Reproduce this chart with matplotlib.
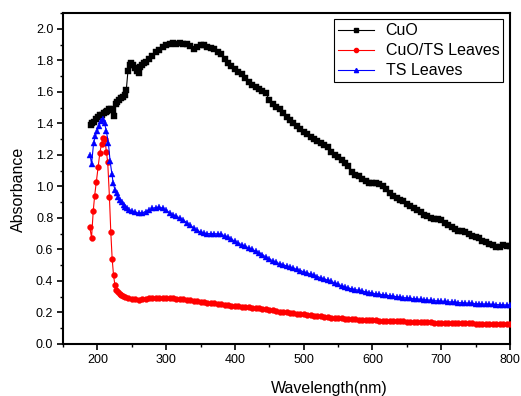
import matplotlib
matplotlib.use("Agg")
import matplotlib.pyplot as plt
from matplotlib.lines import Line2D
from matplotlib.ticker import MultipleLocator
import numpy as np

plt.rcParams['font.family'] = ['Liberation Sans', 'DejaVu Sans']

# ---------------- data ----------------
labels = ["CuO", "CuO/TS Leaves", "TS Leaves"]

# CuO
cuo_x_early = [190, 192.5, 195, 198, 201, 204, 206, 209, 212, 214.5, 217, 220, 222.5, 224,
               226.5, 229, 232, 234.5, 237, 239.5, 242, 244.5, 247, 249.5, 252, 254.5, 257,
               260, 262.5, 265, 267.5]
cuo_y_early = [1.39, 1.40, 1.41, 1.43, 1.44, 1.45, 1.45, 1.465, 1.47, 1.48, 1.49, 1.49, 1.485, 1.445,
               1.525, 1.535, 1.55, 1.56, 1.57, 1.58, 1.61, 1.735, 1.77, 1.785, 1.77, 1.75, 1.73,
               1.72, 1.76, 1.77, 1.78]
cuo_x_tail = list(range(270, 805, 5))
cuo_y_tail = [1.79, 1.81, 1.83, 1.85, 1.865, 1.885, 1.90, 1.905, 1.91, 1.905,
              1.91, 1.905, 1.905, 1.89, 1.87, 1.885, 1.895, 1.895, 1.885, 1.875,
              1.87, 1.855, 1.84, 1.81, 1.785, 1.765, 1.745, 1.725, 1.71, 1.69,
              1.665, 1.645, 1.63, 1.615, 1.605, 1.595, 1.545, 1.525, 1.505, 1.49,
              1.465, 1.44, 1.42, 1.40, 1.385, 1.365, 1.345, 1.33, 1.315, 1.30,
              1.29, 1.275, 1.265, 1.25, 1.22, 1.20, 1.185, 1.165, 1.15, 1.13,
              1.09, 1.075, 1.065, 1.05, 1.035, 1.02, 1.02, 1.02, 1.015, 1.005,
              0.985, 0.955, 0.94, 0.925, 0.915, 0.905, 0.89, 0.875, 0.86, 0.85,
              0.835, 0.82, 0.81, 0.80, 0.795, 0.79, 0.785, 0.77, 0.755, 0.74,
              0.73, 0.72, 0.715, 0.71, 0.695, 0.685, 0.68, 0.67, 0.655, 0.645,
              0.635, 0.625, 0.615, 0.615, 0.625, 0.62, 0.62]

# CuO/TS Leaves
mix_x_early = [189, 191.5, 194, 196, 198.5, 201, 203.5, 206, 208.5, 211, 213, 215, 217.5,
               219.5, 221.5, 223.5, 225.5, 227.5, 230, 232.5, 235, 237.5]
mix_y_early = [0.74, 0.675, 0.845, 0.94, 1.03, 1.12, 1.21, 1.27, 1.31, 1.30, 1.22, 1.155, 0.935,
               0.71, 0.54, 0.435, 0.375, 0.345, 0.328, 0.318, 0.31, 0.303]
mix_x_tail = list(range(240, 805, 5))
mix_y_tail = [0.297, 0.292, 0.288, 0.285, 0.282, 0.283, 0.286, 0.289, 0.291, 0.293,
              0.294, 0.294, 0.293, 0.292, 0.29, 0.288, 0.286, 0.283, 0.28, 0.277,
              0.275, 0.272, 0.269, 0.266, 0.263, 0.26, 0.257, 0.254, 0.251, 0.248,
              0.246, 0.243, 0.241, 0.238, 0.236, 0.234, 0.232, 0.23, 0.228, 0.226,
              0.224, 0.22, 0.217, 0.213, 0.21, 0.206, 0.203, 0.201, 0.199, 0.196,
              0.193, 0.19, 0.188, 0.185, 0.182, 0.18, 0.177, 0.175, 0.173, 0.17,
              0.168, 0.166, 0.164, 0.162, 0.16, 0.158, 0.157, 0.156, 0.155, 0.154,
              0.153, 0.152, 0.151, 0.15, 0.149, 0.148, 0.147, 0.146, 0.145, 0.145,
              0.144, 0.143, 0.142, 0.141, 0.141, 0.14, 0.139, 0.138, 0.137, 0.137,
              0.136, 0.136, 0.135, 0.135, 0.134, 0.134, 0.133, 0.133, 0.132, 0.132,
              0.131, 0.131, 0.13, 0.129, 0.128, 0.128, 0.127, 0.127, 0.126, 0.126,
              0.125, 0.125, 0.124]

# TS Leaves
ts_x_early = [189.5, 191.5, 194.5, 197, 199.5, 202, 205, 207.5, 210.5, 213, 216, 218.5, 221,
              223, 225.5, 228, 230.5, 233, 235.5, 238, 240.5, 243, 245.5]
ts_y_early = [1.20, 1.14, 1.275, 1.32, 1.35, 1.38, 1.415, 1.43, 1.40, 1.35, 1.275, 1.16, 1.08,
              1.02, 0.98, 0.955, 0.93, 0.915, 0.90, 0.885, 0.872, 0.862, 0.853]
ts_x_tail = list(range(250, 805, 5))
ts_y_tail = [0.845, 0.836, 0.83, 0.832, 0.84, 0.85, 0.86, 0.866, 0.867, 0.862,
             0.85, 0.832, 0.82, 0.81, 0.80, 0.786, 0.77, 0.752, 0.736, 0.722,
             0.71, 0.703, 0.70, 0.70, 0.70, 0.698, 0.695, 0.688, 0.677, 0.665,
             0.652, 0.64, 0.63, 0.62, 0.61, 0.60, 0.59, 0.58, 0.567, 0.552,
             0.54, 0.528, 0.518, 0.51, 0.503, 0.495, 0.487, 0.48, 0.473, 0.466,
             0.458, 0.45, 0.443, 0.435, 0.428, 0.42, 0.412, 0.405, 0.397, 0.388,
             0.378, 0.37, 0.362, 0.355, 0.35, 0.345, 0.34, 0.336, 0.331, 0.326,
             0.322, 0.318, 0.315, 0.312, 0.309, 0.306, 0.303, 0.30, 0.297, 0.294,
             0.292, 0.289, 0.287, 0.285, 0.283, 0.281, 0.279, 0.277, 0.275, 0.273,
             0.271, 0.27, 0.268, 0.266, 0.265, 0.263, 0.261, 0.26, 0.258, 0.257,
             0.256, 0.255, 0.254, 0.253, 0.252, 0.251, 0.25, 0.249, 0.248, 0.247,
             0.247]

xticks = [200, 300, 400, 500, 600, 700, 800]
yticks = [0.0, 0.2, 0.4, 0.6, 0.8, 1.0, 1.2, 1.4, 1.6, 1.8, 2.0]

# ---------------- plot ----------------
fig = plt.figure(figsize=(5.21, 3.96), dpi=100)
ax = fig.add_axes([63/521, 1-344/396, (510-63)/521, (344-13)/396])

series = [
    (cuo_x_early + cuo_x_tail, cuo_y_early + cuo_y_tail, 'black', 's', 3.8, 2),
    (mix_x_early + mix_x_tail, mix_y_early + mix_y_tail, 'red', 'o', 4.2, 3),
    (ts_x_early + ts_x_tail, ts_y_early + ts_y_tail, 'blue', '^', 4.6, 4),
]
handles = []
for (xs, ys, c, m, ms, z), lab in zip(series, labels):
    ax.plot(xs, ys, color=c, marker=m, markersize=ms, linewidth=0.8, zorder=z,
            markeredgewidth=0.3)
    handles.append(Line2D([], [], color=c, marker=m, markersize=3.0, linewidth=0.8,
                          label=lab))

ax.set_xlim(150, 800)
ax.set_ylim(0, 2.1)
ax.set_xticks(xticks)
ax.set_yticks(yticks)
ax.set_yticklabels([f"{v:.1f}" for v in yticks])
ax.xaxis.set_minor_locator(MultipleLocator(50))
ax.yaxis.set_minor_locator(MultipleLocator(0.1))
ax.tick_params(which='major', direction='out', length=4, width=1.2, labelsize=9,
               top=False, right=False, pad=3)
ax.tick_params(which='minor', direction='out', length=2.5, width=1.0,
               top=False, right=False)
for s in ax.spines.values():
    s.set_linewidth(1.5)

ax.set_xlabel("Wavelength(nm)", fontsize=11.5)
ax.set_ylabel("Absorbance", fontsize=11.5)
ax.xaxis.set_label_coords(0.595, -0.112)
ax.yaxis.set_label_coords(-0.082, 0.467)

leg = ax.legend(handles=handles, loc='upper right', bbox_to_anchor=(0.985, 0.981),
                borderaxespad=0, fontsize=11.5, frameon=True, fancybox=False,
                edgecolor='black', framealpha=1, handlelength=2.2, handletextpad=0.75,
                labelspacing=0.31, borderpad=0.25)
leg.get_frame().set_linewidth(0.8)

fig.savefig("out.png", dpi=100)
